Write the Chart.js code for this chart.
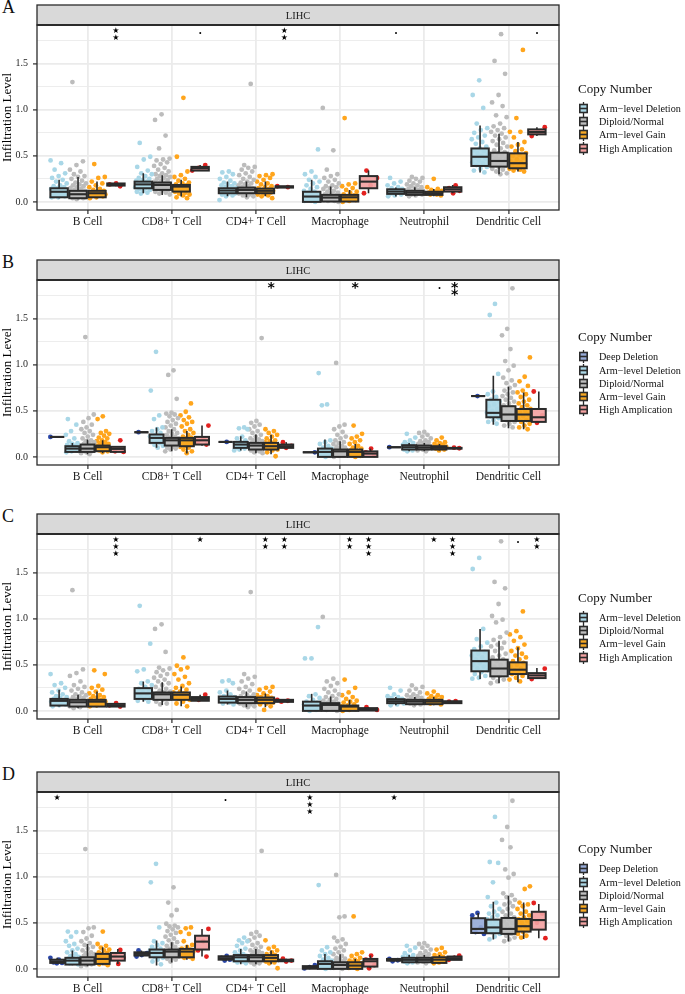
<!DOCTYPE html>
<html>
<head>
<meta charset="utf-8">
<script src="https://cdn.jsdelivr.net/npm/chart.js@4.4.1/dist/chart.umd.min.js"></script>
<style>
body { margin: 0; width: 685px; height: 994px; overflow: hidden; background: #fff; position: relative; font-family: "Liberation Serif", serif; color: #111; }
canvas.panel { position: absolute; left: 0; }
.letter { position: absolute; left: 2px; font-size: 18px; line-height: 18px; }
.lg-title { position: absolute; left: 578px; font-size: 13px; line-height: 16px; white-space: nowrap; }
.lg-row { position: absolute; left: 579px; height: 13px; font-size: 10.2px; line-height: 13px; white-space: nowrap; }
.lg-row canvas { position: absolute; left: 0; top: 0; }
.lg-row span { position: absolute; left: 20px; top: 0; }
</style>
</head>
<body>
<script>
// Categories and groups
const cellTypes = ['B Cell', 'CD8+ T Cell', 'CD4+ T Cell', 'Macrophage', 'Neutrophil', 'Dendritic Cell'];
const groups4 = ['Arm−level Deletion', 'Diploid/Normal', 'Arm−level Gain', 'High Amplication'];
const groups5 = ['Deep Deletion', 'Arm−level Deletion', 'Diploid/Normal', 'Arm−level Gain', 'High Amplication'];

// y axis
const yTicks = [0, 0.5, 1.0, 1.5];
const yMinor = [0.25, 0.75, 1.25, 1.75];

// Box stats: [cell][group] = [lower whisker, q1, median, q3, upper whisker]
const boxA = [
    [[0.04, 0.05, 0.11, 0.148, 0.24], [0.03, 0.04, 0.083, 0.12, 0.27], [0.04, 0.05, 0.094, 0.12, 0.22], [0.17, 0.177, 0.19, 0.2, 0.2]],
    [[0.094, 0.148, 0.19, 0.22, 0.31], [0.076, 0.13, 0.184, 0.21, 0.29], [0.058, 0.112, 0.166, 0.184, 0.24], [0.34, 0.34, 0.365, 0.38, 0.4]],
    [[0.06, 0.094, 0.123, 0.148, 0.22], [0.05, 0.094, 0.13, 0.155, 0.22], [0.06, 0.094, 0.12, 0.144, 0.22], [0.155, 0.155, 0.162, 0.17, 0.17]],
    [[0, 0, 0.058, 0.11, 0.24], [0, 0.004, 0.047, 0.076, 0.166], [0, 0.004, 0.05, 0.076, 0.13], [0.094, 0.148, 0.22, 0.28, 0.34]],
    [[0.058, 0.087, 0.112, 0.137, 0.155], [0.06, 0.076, 0.1, 0.12, 0.16], [0.06, 0.076, 0.094, 0.11, 0.14], [0.094, 0.112, 0.137, 0.159, 0.184]],
    [[0.32, 0.39, 0.49, 0.58, 0.83], [0.30, 0.383, 0.444, 0.534, 0.74], [0.33, 0.365, 0.42, 0.527, 0.65], [0.715, 0.733, 0.758, 0.787, 0.81]]
];
const boxB = [
    [[0.217, 0.217, 0.217, 0.217, 0.217], [0.05, 0.054, 0.09, 0.116, 0.15], [0.03, 0.054, 0.09, 0.134, 0.19], [0.04, 0.062, 0.105, 0.123, 0.18], [0.054, 0.054, 0.087, 0.109, 0.109]],
    [[0.268, 0.268, 0.268, 0.268, 0.268], [0.098, 0.152, 0.206, 0.243, 0.32], [0.06, 0.123, 0.18, 0.206, 0.3], [0.036, 0.116, 0.18, 0.206, 0.28], [0.12, 0.134, 0.18, 0.217, 0.34]],
    [[0.163, 0.163, 0.163, 0.163, 0.163], [0.07, 0.098, 0.134, 0.163, 0.225], [0.04, 0.08, 0.123, 0.152, 0.243], [0.03, 0.08, 0.116, 0.152, 0.24], [0.098, 0.098, 0.116, 0.134, 0.16]],
    [[0.05, 0.05, 0.05, 0.05, 0.05], [0, 0, 0.054, 0.09, 0.19], [0, 0, 0.06, 0.08, 0.17], [0, 0, 0.054, 0.08, 0.14], [0, 0, 0.036, 0.06, 0.09]],
    [[0.105, 0.105, 0.105, 0.105, 0.105], [0.06, 0.08, 0.105, 0.127, 0.152], [0.06, 0.08, 0.101, 0.123, 0.15], [0.07, 0.08, 0.098, 0.116, 0.14], [0.09, 0.09, 0.094, 0.098, 0.1]],
    [[0.66, 0.66, 0.66, 0.66, 0.66], [0.35, 0.43, 0.478, 0.62, 0.88], [0.31, 0.39, 0.46, 0.55, 0.76], [0.3, 0.39, 0.46, 0.52, 0.7], [0.37, 0.38, 0.43, 0.52, 0.71]]
];
const boxC = [
    [[0.047, 0.058, 0.109, 0.13, 0.23], [0.03, 0.047, 0.094, 0.12, 0.175], [0.04, 0.047, 0.1, 0.12, 0.21], [0.047, 0.047, 0.058, 0.076, 0.084]],
    [[0.1, 0.13, 0.19, 0.247, 0.32], [0.065, 0.12, 0.18, 0.2, 0.31], [0.05, 0.12, 0.175, 0.2, 0.265], [0.11, 0.11, 0.13, 0.15, 0.175]],
    [[0.07, 0.09, 0.13, 0.156, 0.22], [0.04, 0.084, 0.12, 0.15, 0.21], [0.04, 0.084, 0.12, 0.145, 0.19], [0.098, 0.098, 0.109, 0.12, 0.12]],
    [[0, 0, 0.058, 0.1, 0.185], [0, 0, 0.065, 0.084, 0.156], [0, 0, 0.047, 0.058, 0.12], [0, 0.004, 0.018, 0.03, 0.04]],
    [[0.06, 0.084, 0.105, 0.127, 0.15], [0.06, 0.073, 0.101, 0.12, 0.15], [0.06, 0.073, 0.101, 0.12, 0.15], [0.084, 0.084, 0.094, 0.105, 0.105]],
    [[0.345, 0.43, 0.54, 0.655, 0.89], [0.3, 0.375, 0.46, 0.556, 0.76], [0.31, 0.4, 0.447, 0.527, 0.69], [0.345, 0.356, 0.385, 0.41, 0.465]]
];
const boxD = [
    [[0.054, 0.065, 0.08, 0.1, 0.12], [0.04, 0.047, 0.09, 0.12, 0.2], [0.03, 0.047, 0.09, 0.126, 0.27], [0.04, 0.054, 0.108, 0.163, 0.235], [0.054, 0.09, 0.134, 0.173, 0.217]],
    [[0.134, 0.145, 0.163, 0.18, 0.2], [0.036, 0.126, 0.173, 0.21, 0.307], [0.07, 0.126, 0.188, 0.21, 0.29], [0.1, 0.126, 0.188, 0.217, 0.26], [0.134, 0.21, 0.296, 0.36, 0.434]],
    [[0.09, 0.1, 0.116, 0.137, 0.14], [0.05, 0.083, 0.126, 0.15, 0.217], [0.05, 0.083, 0.126, 0.15, 0.217], [0.05, 0.083, 0.12, 0.15, 0.2], [0.08, 0.083, 0.09, 0.1, 0.11]],
    [[0, 0.002, 0.01, 0.03, 0.04], [0, 0, 0.054, 0.083, 0.163], [0, 0, 0.043, 0.072, 0.16], [0, 0, 0.036, 0.072, 0.108], [0.007, 0.025, 0.083, 0.108, 0.145]],
    [[0.083, 0.09, 0.094, 0.108, 0.108], [0.06, 0.072, 0.098, 0.12, 0.15], [0.06, 0.072, 0.098, 0.12, 0.15], [0.06, 0.065, 0.1, 0.126, 0.15], [0.098, 0.098, 0.116, 0.134, 0.145]],
    [[0.38, 0.39, 0.434, 0.55, 0.607], [0.318, 0.387, 0.45, 0.535, 0.73], [0.296, 0.38, 0.434, 0.553, 0.795], [0.325, 0.405, 0.463, 0.542, 0.72], [0.333, 0.426, 0.53, 0.62, 0.705]]
];

// Sample points: [cell][group] = infiltration values
const ptsA = [
    [[0.45, 0.42, 0.35, 0.31, 0.28, 0.26, 0.24, 0.22, 0.2, 0.18, 0.17, 0.16, 0.15, 0.14, 0.13, 0.12, 0.12, 0.11, 0.1, 0.1, 0.09, 0.08, 0.07, 0.06, 0.06, 0.05, 0.05],
     [1.30, 0.44, 0.40, 0.35, 0.33, 0.3, 0.28, 0.27, 0.25, 0.23, 0.21, 0.2, 0.19, 0.18, 0.17, 0.16, 0.15, 0.14, 0.13, 0.12, 0.12, 0.11, 0.1, 0.1, 0.09, 0.09, 0.08, 0.08, 0.07, 0.07, 0.06, 0.06, 0.05, 0.05, 0.04, 0.04, 0.03],
     [0.41, 0.27, 0.26, 0.22, 0.2, 0.18, 0.16, 0.14, 0.13, 0.12, 0.11, 0.1, 0.1, 0.09, 0.08, 0.08, 0.07, 0.06, 0.05, 0.04],
     [0.2, 0.19, 0.17]],
    [[0.64, 0.49, 0.46, 0.38, 0.34, 0.31, 0.3, 0.28, 0.26, 0.25, 0.24, 0.23, 0.22, 0.21, 0.2, 0.19, 0.19, 0.18, 0.17, 0.16, 0.15, 0.14, 0.13, 0.12, 0.11, 0.1, 0.09],
     [0.95, 0.89, 0.72, 0.58, 0.47, 0.46, 0.45, 0.43, 0.41, 0.39, 0.37, 0.35, 0.33, 0.31, 0.3, 0.29, 0.28, 0.27, 0.26, 0.25, 0.24, 0.23, 0.22, 0.21, 0.2, 0.2, 0.19, 0.18, 0.18, 0.17, 0.16, 0.15, 0.14, 0.13, 0.12, 0.11, 0.1, 0.09, 0.08],
     [1.13, 0.49, 0.33, 0.29, 0.27, 0.25, 0.23, 0.21, 0.2, 0.19, 0.18, 0.17, 0.16, 0.15, 0.14, 0.13, 0.12, 0.11, 0.1, 0.09, 0.08, 0.07, 0.05, 0.04],
     [0.4, 0.37, 0.34]],
    [[0.33, 0.32, 0.3, 0.27, 0.25, 0.23, 0.21, 0.2, 0.19, 0.18, 0.17, 0.16, 0.15, 0.14, 0.13, 0.13, 0.12, 0.12, 0.11, 0.1, 0.09, 0.09, 0.08, 0.07, 0.06, 0.02],
     [1.28, 0.40, 0.38, 0.37, 0.35, 0.33, 0.31, 0.29, 0.27, 0.25, 0.24, 0.22, 0.21, 0.2, 0.19, 0.18, 0.17, 0.16, 0.15, 0.15, 0.14, 0.13, 0.13, 0.12, 0.12, 0.11, 0.1, 0.1, 0.09, 0.08, 0.07, 0.06, 0.05],
     [0.30, 0.29, 0.28, 0.26, 0.24, 0.22, 0.2, 0.19, 0.17, 0.16, 0.15, 0.14, 0.13, 0.12, 0.12, 0.11, 0.1, 0.09, 0.08, 0.07, 0.06, 0.04],
     [0.17, 0.16]],
    [[0.57, 0.33, 0.3, 0.27, 0.24, 0.22, 0.2, 0.18, 0.16, 0.14, 0.12, 0.11, 0.1, 0.09, 0.08, 0.07, 0.06, 0.05, 0.04, 0.03, 0.02, 0.02, 0.01, 0.01, 0],
     [1.02, 0.56, 0.35, 0.3, 0.28, 0.26, 0.24, 0.22, 0.2, 0.18, 0.17, 0.16, 0.15, 0.14, 0.12, 0.11, 0.1, 0.09, 0.08, 0.07, 0.06, 0.06, 0.05, 0.04, 0.03, 0.03, 0.02, 0.01, 0.01, 0],
     [0.91, 0.2, 0.19, 0.17, 0.15, 0.13, 0.11, 0.1, 0.08, 0.07, 0.06, 0.05, 0.04, 0.03, 0.02, 0.01, 0],
     [0.34, 0.26, 0.18, 0.094]],
    [[0.26, 0.22, 0.2, 0.18, 0.16, 0.15, 0.14, 0.13, 0.12, 0.12, 0.11, 0.11, 0.1, 0.09, 0.08, 0.07, 0.06],
     [0.27, 0.26, 0.25, 0.23, 0.22, 0.2, 0.19, 0.18, 0.17, 0.16, 0.15, 0.14, 0.13, 0.12, 0.12, 0.11, 0.11, 0.1, 0.1, 0.09, 0.09, 0.08, 0.08, 0.07, 0.06],
     [0.25, 0.16, 0.14, 0.13, 0.12, 0.11, 0.1, 0.1, 0.09, 0.09, 0.08, 0.08, 0.07],
     [0.18, 0.15, 0.12, 0.094]],
    [[1.32, 1.16, 1.02, 0.85, 0.8, 0.78, 0.75, 0.72, 0.7, 0.68, 0.65, 0.63, 0.6, 0.58, 0.56, 0.55, 0.53, 0.51, 0.5, 0.48, 0.47, 0.45, 0.43, 0.42, 0.4, 0.38, 0.36, 0.34, 0.32],
     [1.82, 1.53, 1.39, 1.16, 1.08, 1.04, 0.94, 0.92, 0.85, 0.82, 0.8, 0.78, 0.76, 0.74, 0.72, 0.7, 0.68, 0.66, 0.64, 0.62, 0.6, 0.58, 0.56, 0.54, 0.53, 0.51, 0.5, 0.48, 0.47, 0.46, 0.45, 0.44, 0.43, 0.42, 0.41, 0.4, 0.39, 0.38, 0.36, 0.35, 0.33, 0.31, 0.3],
     [1.65, 0.91, 0.76, 0.76, 0.7, 0.65, 0.62, 0.6, 0.57, 0.55, 0.53, 0.51, 0.5, 0.48, 0.46, 0.44, 0.43, 0.42, 0.41, 0.4, 0.39, 0.38, 0.37, 0.36, 0.35, 0.34, 0.33],
     [0.81, 0.76, 0.715]]
];
const ptsB = [
    [[0.217],
     [0.41, 0.35, 0.28, 0.24, 0.2, 0.17, 0.15, 0.14, 0.13, 0.12, 0.11, 0.1, 0.09, 0.08, 0.07, 0.06, 0.05],
     [1.30, 0.46, 0.42, 0.38, 0.35, 0.32, 0.3, 0.28, 0.26, 0.24, 0.22, 0.2, 0.18, 0.17, 0.16, 0.15, 0.14, 0.13, 0.12, 0.11, 0.1, 0.1, 0.09, 0.08, 0.07, 0.06, 0.05, 0.04, 0.03],
     [0.44, 0.41, 0.28, 0.26, 0.25, 0.23, 0.21, 0.2, 0.18, 0.17, 0.16, 0.15, 0.14, 0.13, 0.12, 0.11, 0.1, 0.09, 0.08, 0.07, 0.06, 0.05],
     [0.18, 0.06, 0.054]],
    [[0.268],
     [1.14, 0.72, 0.45, 0.41, 0.32, 0.3, 0.28, 0.26, 0.24, 0.22, 0.21, 0.2, 0.19, 0.18, 0.16, 0.15, 0.13, 0.12, 0.1],
     [0.94, 0.89, 0.63, 0.48, 0.47, 0.46, 0.44, 0.42, 0.4, 0.38, 0.36, 0.34, 0.32, 0.3, 0.28, 0.26, 0.25, 0.24, 0.22, 0.21, 0.2, 0.19, 0.18, 0.17, 0.16, 0.15, 0.14, 0.13, 0.12, 0.11, 0.1, 0.09, 0.08, 0.06],
     [0.58, 0.49, 0.45, 0.43, 0.4, 0.38, 0.36, 0.33, 0.3, 0.28, 0.26, 0.24, 0.22, 0.21, 0.2, 0.19, 0.18, 0.17, 0.16, 0.15, 0.14, 0.13, 0.12, 0.11, 0.1, 0.08, 0.06, 0.04],
     [0.34, 0.2, 0.17, 0.134]],
    [[0.163],
     [0.32, 0.31, 0.3, 0.22, 0.2, 0.18, 0.16, 0.15, 0.14, 0.13, 0.12, 0.11, 0.1, 0.09, 0.08, 0.07],
     [1.29, 0.39, 0.37, 0.35, 0.33, 0.3, 0.28, 0.26, 0.24, 0.22, 0.2, 0.19, 0.18, 0.17, 0.16, 0.15, 0.14, 0.13, 0.12, 0.11, 0.1, 0.09, 0.08, 0.07, 0.06, 0.05, 0.04],
     [0.30, 0.28, 0.26, 0.24, 0.22, 0.2, 0.18, 0.17, 0.16, 0.15, 0.14, 0.13, 0.12, 0.11, 0.1, 0.09, 0.08, 0.07, 0.05, 0.007],
     [0.16, 0.12, 0.098]],
    [[0.05],
     [0.91, 0.57, 0.56, 0.18, 0.16, 0.14, 0.12, 0.1, 0.09, 0.08, 0.07, 0.06, 0.05, 0.04, 0.03, 0.02, 0.01, 0],
     [1.02, 0.35, 0.33, 0.3, 0.27, 0.24, 0.22, 0.2, 0.18, 0.16, 0.15, 0.14, 0.12, 0.11, 0.1, 0.09, 0.08, 0.07, 0.06, 0.05, 0.04, 0.03, 0.02, 0.01, 0],
     [0.34, 0.25, 0.22, 0.2, 0.18, 0.16, 0.14, 0.12, 0.1, 0.09, 0.08, 0.07, 0.06, 0.05, 0.04, 0.03, 0.02, 0.01, 0],
     [0.09, 0.05, 0.02]],
    [[0.105],
     [0.25, 0.21, 0.18, 0.16, 0.15, 0.14, 0.13, 0.12, 0.11, 0.1, 0.09, 0.08, 0.07, 0.06],
     [0.27, 0.26, 0.24, 0.22, 0.2, 0.18, 0.17, 0.16, 0.15, 0.14, 0.13, 0.12, 0.11, 0.1, 0.1, 0.09, 0.08, 0.07, 0.06],
     [0.21, 0.18, 0.16, 0.15, 0.14, 0.13, 0.12, 0.11, 0.1, 0.09, 0.08, 0.07],
     [0.094, 0.1]],
    [[0.66],
     [1.66, 1.54, 0.9, 0.71, 0.68, 0.65, 0.62, 0.6, 0.57, 0.55, 0.52, 0.5, 0.48, 0.46, 0.44, 0.42, 0.4, 0.38, 0.36],
     [1.83, 1.39, 1.32, 1.17, 1.04, 0.99, 0.94, 0.86, 0.83, 0.8, 0.78, 0.75, 0.72, 0.7, 0.68, 0.66, 0.64, 0.62, 0.6, 0.58, 0.56, 0.54, 0.52, 0.5, 0.48, 0.46, 0.45, 0.44, 0.42, 0.41, 0.4, 0.38, 0.36, 0.34, 0.32],
     [1.08, 0.87, 0.82, 0.77, 0.72, 0.7, 0.68, 0.65, 0.62, 0.6, 0.58, 0.56, 0.54, 0.52, 0.5, 0.48, 0.46, 0.44, 0.42, 0.4, 0.38, 0.36, 0.34, 0.32, 0.3],
     [0.71, 0.45, 0.37]]
];
const ptsC = [
    [[0.40, 0.3, 0.28, 0.25, 0.22, 0.2, 0.18, 0.16, 0.15, 0.14, 0.13, 0.12, 0.11, 0.1, 0.09, 0.08, 0.07, 0.06, 0.05],
     [1.31, 0.45, 0.41, 0.38, 0.32, 0.28, 0.26, 0.24, 0.22, 0.2, 0.18, 0.17, 0.16, 0.15, 0.14, 0.13, 0.12, 0.11, 0.1, 0.1, 0.09, 0.08, 0.07, 0.06, 0.05, 0.04, 0.03],
     [0.44, 0.40, 0.27, 0.25, 0.23, 0.21, 0.19, 0.17, 0.16, 0.15, 0.14, 0.13, 0.12, 0.11, 0.1, 0.09, 0.08, 0.07, 0.06, 0.05],
     [0.084, 0.06, 0.047]],
    [[1.14, 0.73, 0.45, 0.43, 0.32, 0.3, 0.28, 0.26, 0.24, 0.22, 0.2, 0.19, 0.18, 0.16, 0.14, 0.13, 0.11, 0.1],
     [0.94, 0.89, 0.64, 0.47, 0.46, 0.44, 0.42, 0.4, 0.38, 0.36, 0.34, 0.32, 0.3, 0.28, 0.26, 0.24, 0.22, 0.21, 0.2, 0.19, 0.18, 0.17, 0.16, 0.15, 0.14, 0.13, 0.12, 0.1, 0.08, 0.07],
     [0.58, 0.49, 0.47, 0.45, 0.4, 0.37, 0.34, 0.3, 0.27, 0.25, 0.23, 0.21, 0.2, 0.19, 0.18, 0.17, 0.16, 0.15, 0.14, 0.13, 0.12, 0.1, 0.08, 0.05],
     [0.175, 0.12]],
    [[0.33, 0.32, 0.3, 0.22, 0.2, 0.18, 0.16, 0.15, 0.14, 0.13, 0.12, 0.11, 0.1, 0.09, 0.08, 0.07],
     [1.29, 0.4, 0.37, 0.35, 0.32, 0.29, 0.26, 0.24, 0.22, 0.2, 0.18, 0.17, 0.16, 0.15, 0.14, 0.13, 0.12, 0.11, 0.1, 0.09, 0.08, 0.07, 0.06, 0.05, 0.04],
     [0.26, 0.25, 0.23, 0.21, 0.19, 0.17, 0.16, 0.15, 0.14, 0.13, 0.12, 0.11, 0.1, 0.09, 0.08, 0.07, 0.05, 0.01],
     [0.12, 0.11, 0.1]],
    [[0.91, 0.57, 0.57, 0.18, 0.16, 0.14, 0.12, 0.1, 0.09, 0.08, 0.07, 0.06, 0.05, 0.04, 0.03, 0.02, 0.01, 0],
     [1.02, 0.35, 0.32, 0.3, 0.27, 0.24, 0.22, 0.2, 0.18, 0.16, 0.15, 0.13, 0.12, 0.11, 0.1, 0.09, 0.08, 0.07, 0.06, 0.05, 0.04, 0.03, 0.02, 0.01, 0],
     [0.34, 0.25, 0.2, 0.17, 0.15, 0.13, 0.11, 0.1, 0.09, 0.07, 0.06, 0.05, 0.04, 0.03, 0.02, 0.01, 0],
     [0.04, 0.01]],
    [[0.25, 0.22, 0.18, 0.16, 0.15, 0.14, 0.13, 0.12, 0.11, 0.1, 0.09, 0.08, 0.07, 0.06],
     [0.276, 0.26, 0.24, 0.22, 0.2, 0.18, 0.17, 0.16, 0.15, 0.14, 0.13, 0.12, 0.11, 0.1, 0.1, 0.09, 0.08, 0.07, 0.06],
     [0.21, 0.19, 0.17, 0.16, 0.15, 0.14, 0.13, 0.12, 0.11, 0.1, 0.09, 0.08, 0.07],
     [0.105, 0.1]],
    [[1.66, 1.54, 0.89, 0.78, 0.74, 0.7, 0.67, 0.64, 0.62, 0.6, 0.58, 0.56, 0.54, 0.52, 0.5, 0.48, 0.46, 0.44, 0.42, 0.4, 0.38, 0.36, 0.35],
     [1.84, 1.4, 1.33, 1.16, 1.03, 0.99, 0.96, 0.85, 0.8, 0.77, 0.74, 0.72, 0.7, 0.68, 0.65, 0.62, 0.6, 0.58, 0.56, 0.54, 0.52, 0.5, 0.48, 0.46, 0.45, 0.44, 0.42, 0.41, 0.4, 0.38, 0.36, 0.34, 0.32, 0.3],
     [1.08, 0.865, 0.83, 0.8, 0.76, 0.72, 0.68, 0.65, 0.62, 0.6, 0.58, 0.56, 0.54, 0.52, 0.5, 0.48, 0.46, 0.44, 0.42, 0.41, 0.4, 0.38, 0.36, 0.34, 0.32],
     [0.458, 0.38, 0.345]]
];
const ptsD = [
    [[0.12, 0.1, 0.07, 0.065, 0.06],
     [0.405, 0.40, 0.35, 0.3, 0.27, 0.25, 0.22, 0.2, 0.18, 0.16, 0.14, 0.13, 0.12, 0.11, 0.1, 0.09, 0.08, 0.07, 0.06, 0.05],
     [1.30, 0.45, 0.44, 0.4, 0.36, 0.33, 0.3, 0.28, 0.26, 0.24, 0.22, 0.2, 0.18, 0.17, 0.16, 0.15, 0.14, 0.13, 0.12, 0.11, 0.1, 0.09, 0.08, 0.07, 0.06, 0.05, 0.04, 0.03],
     [0.405, 0.27, 0.25, 0.23, 0.21, 0.2, 0.18, 0.17, 0.16, 0.15, 0.14, 0.13, 0.12, 0.11, 0.1, 0.09, 0.08, 0.07, 0.06, 0.05, 0.04],
     [0.206, 0.15, 0.12, 0.054]],
    [[0.2, 0.17, 0.15, 0.134],
     [1.14, 0.94, 0.45, 0.3, 0.28, 0.26, 0.24, 0.22, 0.21, 0.2, 0.19, 0.18, 0.17, 0.16, 0.15, 0.14, 0.13, 0.12, 0.1, 0.08, 0.05],
     [0.885, 0.72, 0.64, 0.58, 0.49, 0.47, 0.46, 0.45, 0.43, 0.41, 0.39, 0.37, 0.35, 0.33, 0.31, 0.29, 0.27, 0.25, 0.24, 0.22, 0.21, 0.2, 0.19, 0.18, 0.17, 0.16, 0.15, 0.14, 0.13, 0.12, 0.11, 0.1, 0.08],
     [0.45, 0.44, 0.4, 0.38, 0.3, 0.26, 0.24, 0.22, 0.21, 0.2, 0.19, 0.18, 0.17, 0.16, 0.15, 0.14, 0.13, 0.12, 0.11],
     [0.434, 0.3, 0.2, 0.134]],
    [[0.14, 0.12, 0.1, 0.09],
     [0.34, 0.31, 0.3, 0.28, 0.25, 0.22, 0.2, 0.18, 0.16, 0.15, 0.14, 0.13, 0.12, 0.11, 0.1, 0.09, 0.08, 0.07, 0.06],
     [1.28, 0.4, 0.38, 0.36, 0.34, 0.31, 0.28, 0.26, 0.24, 0.22, 0.2, 0.19, 0.18, 0.17, 0.16, 0.15, 0.14, 0.13, 0.12, 0.11, 0.1, 0.09, 0.08, 0.07, 0.06, 0.05],
     [0.31, 0.24, 0.22, 0.2, 0.18, 0.16, 0.15, 0.14, 0.13, 0.12, 0.11, 0.1, 0.09, 0.08, 0.07, 0.06, 0.007],
     [0.11, 0.09, 0.08]],
    [[0.04, 0.02, 0.005],
     [0.91, 0.235, 0.2, 0.18, 0.16, 0.14, 0.12, 0.1, 0.09, 0.08, 0.07, 0.06, 0.05, 0.04, 0.03, 0.02, 0.01, 0],
     [1.02, 0.57, 0.56, 0.34, 0.32, 0.3, 0.27, 0.24, 0.22, 0.2, 0.18, 0.16, 0.14, 0.12, 0.11, 0.1, 0.09, 0.08, 0.07, 0.06, 0.05, 0.04, 0.03, 0.02, 0.01, 0],
     [0.57, 0.18, 0.16, 0.14, 0.12, 0.1, 0.09, 0.08, 0.07, 0.06, 0.05, 0.04, 0.03, 0.02, 0.01, 0],
     [0.145, 0.1, 0.04, 0.007]],
    [[0.108, 0.094, 0.083],
     [0.25, 0.23, 0.2, 0.17, 0.15, 0.14, 0.13, 0.12, 0.11, 0.1, 0.09, 0.08, 0.07, 0.06],
     [0.28, 0.27, 0.25, 0.23, 0.21, 0.19, 0.17, 0.16, 0.15, 0.14, 0.13, 0.12, 0.11, 0.1, 0.1, 0.09, 0.08, 0.07, 0.06],
     [0.228, 0.21, 0.18, 0.16, 0.15, 0.13, 0.12, 0.11, 0.1, 0.09, 0.08, 0.07, 0.06],
     [0.145, 0.12, 0.098]],
    [[0.607, 0.58, 0.45, 0.4, 0.38],
     [1.65, 1.16, 1.15, 0.94, 0.78, 0.72, 0.68, 0.65, 0.62, 0.6, 0.58, 0.56, 0.54, 0.52, 0.5, 0.48, 0.46, 0.44, 0.42, 0.4, 0.38, 0.35, 0.32],
     [1.825, 1.54, 1.4, 1.32, 1.08, 1.03, 0.99, 0.82, 0.8, 0.78, 0.75, 0.72, 0.7, 0.68, 0.65, 0.62, 0.6, 0.58, 0.56, 0.54, 0.52, 0.5, 0.48, 0.46, 0.44, 0.43, 0.42, 0.41, 0.4, 0.38, 0.36, 0.34, 0.32, 0.3],
     [0.896, 0.867, 0.72, 0.7, 0.68, 0.65, 0.62, 0.6, 0.58, 0.56, 0.54, 0.52, 0.5, 0.48, 0.46, 0.44, 0.42, 0.4, 0.38, 0.36, 0.34],
     [0.715, 0.6, 0.5, 0.333]]
];

// Significance labels: [cell, group, label]
const sigA = [[0, 3, '**'], [1, 3, '.'], [2, 3, '**'], [4, 0, '.'], [5, 3, '.']];
const sigB = [[2, 3, '*'], [3, 3, '*'], [4, 3, '.'], [4, 4, '**']];
const sigC = [[0, 3, '***'], [1, 3, '*'], [2, 2, '**'], [2, 3, '**'], [3, 2, '**'], [3, 3, '***'], [4, 2, '*'], [4, 3, '***'], [5, 2, '.'], [5, 3, '**']];
const sigD = [[0, 0, '*'], [2, 0, '.'], [3, 0, '***'], [4, 0, '*']];

// Styles
const pointColours = {
    'Deep Deletion': '#2a46a6',
    'Arm−level Deletion': '#a9d7e7',
    'Diploid/Normal': '#bcbcbc',
    'Arm−level Gain': '#ffa51c',
    'High Amplication': '#e3211f'
};
const fillColours = {
    'Deep Deletion': '#97abd8',
    'Arm−level Deletion': '#acd8e6',
    'Diploid/Normal': '#bebebe',
    'Arm−level Gain': '#f7a823',
    'High Amplication': '#f3a2a2'
};
const dark = '#2b2b2b';
const canvasTops = [0, 255, 509, 767];
const panels = [
    { letter: 'A', groups: groups4, box: boxA, pts: ptsA, sig: sigA, star: '★', starFont: '8px "DejaVu Sans"' },
    { letter: 'B', groups: groups5, box: boxB, pts: ptsB, sig: sigB, star: '*', starFont: 'bold 14px "DejaVu Sans"' },
    { letter: 'C', groups: groups4, box: boxC, pts: ptsC, sig: sigC, star: '★', starFont: '8px "DejaVu Sans"' },
    { letter: 'D', groups: groups5, box: boxD, pts: ptsD, sig: sigD, star: '★', starFont: '8px "DejaVu Sans"' }
];

Chart.defaults.font.family = '"Liberation Serif", serif';

function dodge(g, n) {
    const sp = 0.9 / n;
    return (g - (n - 1) / 2) * sp;
}

function jitter(i, c, g) {
    return ((i * 0.6180339887 + c * 0.29 + g * 0.17) % 1) * 2 - 1;
}

function drawCentred(ctx, text, x, y) {
    const m = ctx.measureText(text);
    ctx.fillText(text, x, y + (m.actualBoundingBoxAscent - m.actualBoundingBoxDescent) / 2);
}

function panelPlugin(panel) {
    const n = panel.groups.length;
    const sp = 0.9 / n;
    return {
        id: 'panel' + panel.letter,
        afterDatasetsDraw(chart) {
            const { ctx, chartArea, scales: { x, y } } = chart;
            ctx.save();
            ctx.beginPath();
            ctx.rect(chartArea.left, chartArea.top, chartArea.right - chartArea.left, chartArea.bottom - chartArea.top);
            ctx.clip();
            panel.box.forEach((cell, c) => {
                cell.forEach((b, g) => {
                    const cx = c + 1 + dodge(g, n);
                    const px = x.getPixelForValue(cx);
                    const hw = x.getPixelForValue(cx + sp * 0.46) - px;
                    const [lo, q1, md, q3, hi] = b.map(v => y.getPixelForValue(v));
                    ctx.strokeStyle = dark;
                    ctx.lineWidth = 1.6;
                    ctx.beginPath();
                    ctx.moveTo(px, q3); ctx.lineTo(px, hi);
                    ctx.moveTo(px, q1); ctx.lineTo(px, lo);
                    ctx.stroke();
                    ctx.globalAlpha = 0.92;
                    ctx.fillStyle = fillColours[panel.groups[g]];
                    ctx.fillRect(px - hw, q3, 2 * hw, q1 - q3);
                    ctx.globalAlpha = 1;
                    ctx.lineWidth = 2;
                    ctx.strokeRect(px - hw, q3, 2 * hw, q1 - q3);
                    ctx.lineWidth = 2.1;
                    ctx.beginPath();
                    ctx.moveTo(px - hw, md); ctx.lineTo(px + hw, md);
                    ctx.stroke();
                });
            });
            ctx.restore();
        },
        afterDraw(chart) {
            const { ctx, chartArea, scales: { x, y } } = chart;
            const w = chartArea.right - chartArea.left;
            ctx.save();
            // panel border
            ctx.strokeStyle = dark;
            ctx.lineWidth = 1.3;
            ctx.strokeRect(chartArea.left, chartArea.top, w, chartArea.bottom - chartArea.top);
            // strip
            ctx.fillStyle = '#d9d9d9';
            ctx.fillRect(chartArea.left, chartArea.top - 20, w, 20);
            ctx.strokeRect(chartArea.left, chartArea.top - 20, w, 20);
            ctx.lineWidth = 2;
            ctx.beginPath();
            ctx.moveTo(chartArea.left, chartArea.top); ctx.lineTo(chartArea.right, chartArea.top);
            ctx.stroke();
            ctx.fillStyle = '#1a1a1a';
            ctx.font = '10.5px "Liberation Serif"';
            ctx.textAlign = 'center';
            ctx.textBaseline = 'alphabetic';
            drawCentred(ctx, 'LIHC', (chartArea.left + chartArea.right) / 2, chartArea.top - 10);
            // significance marks
            ctx.fillStyle = '#000';
            panel.sig.forEach(([c, g, label]) => {
                const px = x.getPixelForValue(c + 1 + dodge(g, n));
                if (label === '.') {
                    ctx.font = '16px "Liberation Serif"';
                    drawCentred(ctx, '.', px, y.getPixelForValue(1.83));
                } else {
                    ctx.font = panel.starFont;
                    const top = y.getPixelForValue(1.86);
                    for (let k = 0; k < label.length; k++) {
                        drawCentred(ctx, panel.star, px, top + k * 6.8);
                    }
                }
            });
            ctx.restore();
        }
    };
}

function buildDatasets(panel) {
    const n = panel.groups.length;
    const sp = 0.9 / n;
    return panel.groups.map((name, g) => {
        const data = [];
        panel.pts.forEach((cell, c) => {
            cell[g].forEach((v, i) => {
                data.push({ x: c + 1 + dodge(g, n) + jitter(i, c, g) * sp * 0.45, y: v });
            });
        });
        return {
            label: name,
            data: data,
            backgroundColor: pointColours[name],
            pointRadius: 2.4,
            pointHoverRadius: 0,
            pointBorderWidth: 0
        };
    });
}

function buildLegend(panel, top) {
    const n = panel.groups.length;
    const first = top + 5 + 123.3 - (n - 1) * 6.65;
    const title = document.createElement('div');
    title.className = 'lg-title';
    title.textContent = 'Copy Number';
    title.style.top = (first - 19.3 - 8) + 'px';
    document.body.appendChild(title);
    panel.groups.forEach((name, g) => {
        const row = document.createElement('div');
        row.className = 'lg-row';
        row.style.top = (first + g * 13.3 - 6.5) + 'px';
        const key = document.createElement('canvas');
        key.width = 10; key.height = 13;
        const k = key.getContext('2d');
        k.strokeStyle = dark;
        k.lineWidth = 1.3;
        k.beginPath(); k.moveTo(4.5, 0); k.lineTo(4.5, 13); k.stroke();
        k.fillStyle = fillColours[name];
        k.fillRect(0.8, 2.5, 7.4, 8);
        k.lineWidth = 1.6;
        k.strokeRect(0.8, 2.5, 7.4, 8);
        k.beginPath(); k.moveTo(0.8, 6.5); k.lineTo(8.2, 6.5); k.stroke();
        const span = document.createElement('span');
        span.textContent = name;
        row.appendChild(key);
        row.appendChild(span);
        document.body.appendChild(row);
    });
}

panels.forEach((panel, p) => {
    const top = canvasTops[p];
    const letter = document.createElement('div');
    letter.className = 'letter';
    letter.textContent = panel.letter;
    letter.style.top = (top - 2) + 'px';
    document.body.appendChild(letter);

    const canvas = document.createElement('canvas');
    canvas.className = 'panel';
    canvas.width = 685;
    canvas.height = 232;
    canvas.style.top = top + 'px';
    document.body.appendChild(canvas);

    new Chart(canvas.getContext('2d'), {
        type: 'scatter',
        data: { datasets: buildDatasets(panel) },
        options: {
            responsive: false,
            animation: false,
            layout: { padding: { top: 25, right: 126, left: 0, bottom: 0 } },
            plugins: { legend: { display: false }, tooltip: { enabled: false } },
            events: [],
            scales: {
                x: {
                    type: 'linear',
                    min: 0.4,
                    max: 6.6,
                    afterBuildTicks: s => { s.ticks = cellTypes.map((_, i) => ({ value: i + 1 })); },
                    afterFit: s => { s.height = 22; },
                    ticks: {
                        autoSkip: false,
                        maxRotation: 0,
                        padding: 1,
                        color: '#1a1a1a',
                        font: { size: 11.5 },
                        callback: v => cellTypes[v - 1]
                    },
                    grid: { color: '#ebebeb', lineWidth: 1.8, tickLength: 4, tickColor: dark, tickWidth: 1.2 },
                    border: { display: false }
                },
                y: {
                    min: -0.088,
                    max: 1.92,
                    afterBuildTicks: s => { s.ticks = yTicks.concat(yMinor).sort((a, b) => a - b).map(v => ({ value: v })); },
                    afterFit: s => { s.width = 37; },
                    ticks: {
                        autoSkip: false,
                        padding: 5,
                        color: '#262626',
                        font: { size: 10 },
                        callback: v => yTicks.includes(v) ? v.toFixed(1) : ''
                    },
                    grid: {
                        color: '#ebebeb',
                        lineWidth: c => (c.tick && yTicks.includes(c.tick.value)) ? 1.8 : 0.9,
                        tickLength: 4,
                        tickWidth: 1.2,
                        tickColor: c => (c.tick && yTicks.includes(c.tick.value)) ? dark : 'rgba(0,0,0,0)'
                    },
                    border: { display: false },
                    title: { display: true, text: 'Infiltration Level', color: '#000', font: { size: 13 }, padding: 0 }
                }
            }
        },
        plugins: [panelPlugin(panel)]
    });

    buildLegend(panel, top);
});
</script>
</body>
</html>
